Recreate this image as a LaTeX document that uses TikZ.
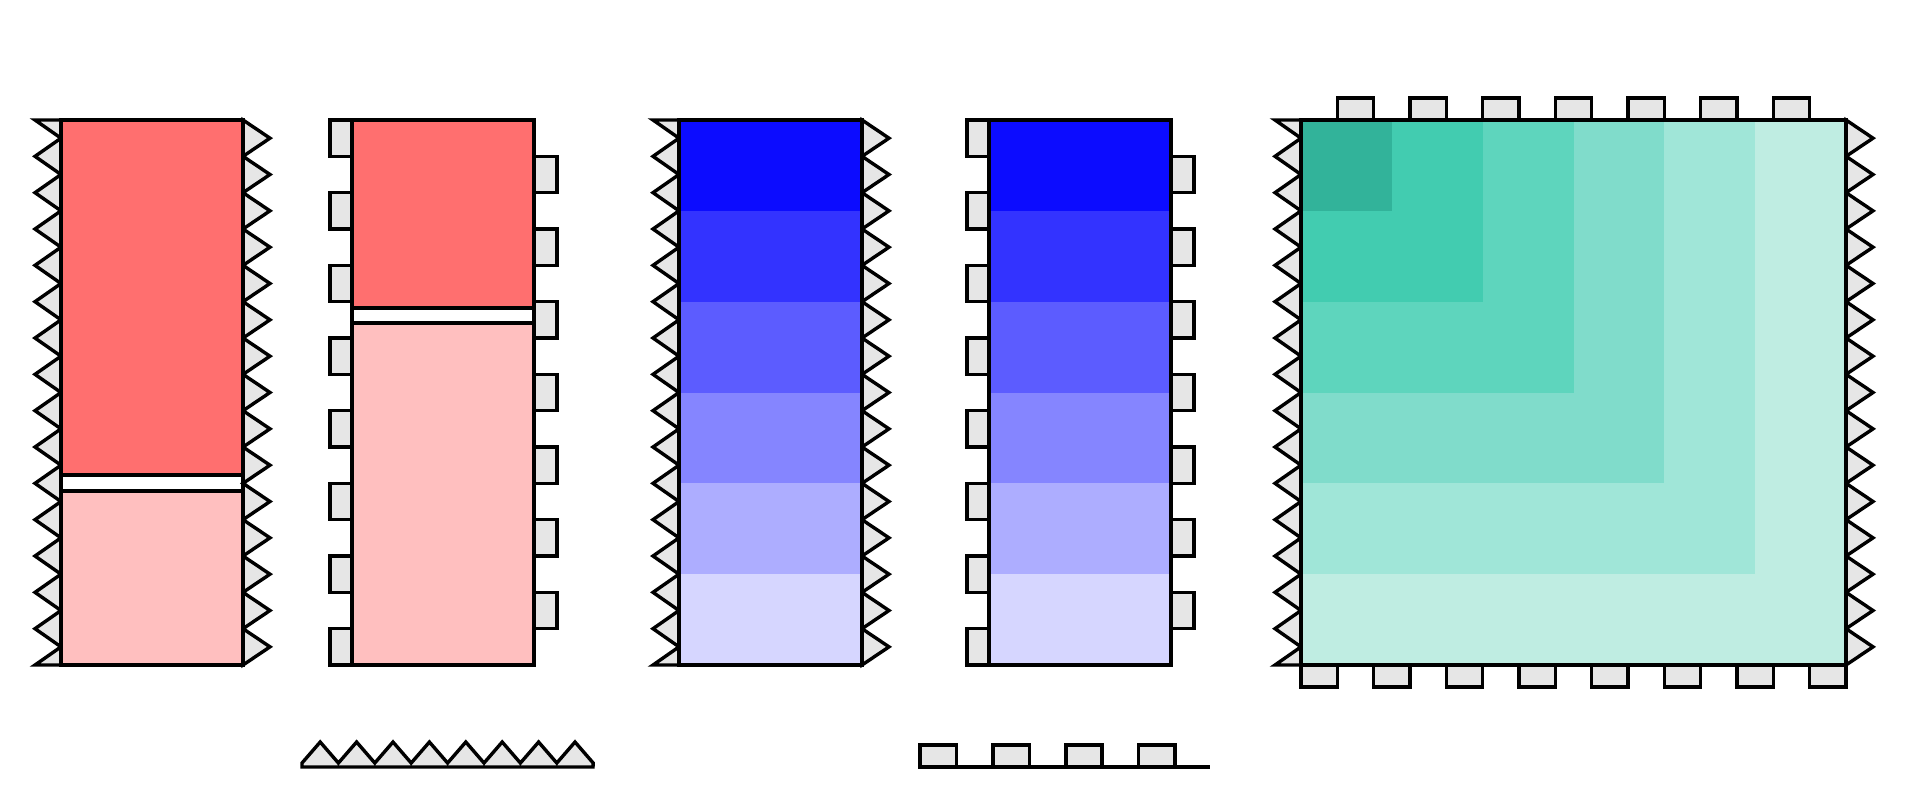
\documentclass[tikz,border=0pt]{standalone}
\definecolor{toothgray}{HTML}{E6E6E6}
\definecolor{redA}{HTML}{FF6F6F}
\definecolor{redB}{HTML}{FFBFBF}
\definecolor{bl1}{HTML}{0C0CFF}
\definecolor{bl2}{HTML}{3333FF}
\definecolor{bl3}{HTML}{5C5CFF}
\definecolor{bl4}{HTML}{8585FF}
\definecolor{bl5}{HTML}{ADADFF}
\definecolor{bl6}{HTML}{D6D6FF}
\definecolor{tl1}{HTML}{32B39A}
\definecolor{tl2}{HTML}{42CCB0}
\definecolor{tl3}{HTML}{5ED5BD}
\definecolor{tl4}{HTML}{80DCCB}
\definecolor{tl5}{HTML}{A0E6D8}
\definecolor{tl6}{HTML}{BFEDE2}
\tikzset{
  tooth/.style={fill=toothgray, draw=black, line width=1.7pt},
  frame/.style={draw=black, line width=1.7pt},
  part/.style={draw=black, line width=1.7pt},
}
% left zigzag edge at x=#1
\newcommand\myzigleft[1]{%
  \draw[tooth] (#1,120) -- ({#1-26},120)
    \foreach \k in {0,...,14} { -- (#1,{120+(\k+0.5)*\uu}) -- ({#1-26},{120+(\k+1)*\uu}) }
    -- (#1,665) -- cycle;}
% right zigzag edge at x=#1
\newcommand\myzigright[1]{%
  \draw[tooth] (#1,120)
    \foreach \k in {0,...,14} { -- ({#1+27},{120+(\k+0.5)*\uu}) -- (#1,{120+(\k+1)*\uu}) }
    -- cycle;}
% square teeth, left edge at #1, right edge at #2
\newcommand\mysquares[2]{%
  \foreach \k in {0,2,...,14} {\draw[tooth] ({#1-22},{120+\k*\uu}) rectangle (#1,{120+(\k+1)*\uu});}
  \foreach \k in {1,3,...,13} {\draw[tooth] (#2,{120+\k*\uu}) rectangle ({#2+23},{120+(\k+1)*\uu});}}
\begin{document}
\begin{tikzpicture}[x=0.5pt,y=-0.5pt]
\pgfmathsetmacro\uu{545/15}
\pgfmathsetmacro\cc{545/6}
\useasboundingbox[fill=white] (0,0) rectangle (1909,800);

% ---------- column 1: red, zigzag ----------
\myzigleft{61}
\myzigright{243}
\draw[part, fill=redA] (61,120) rectangle (243,475);
\draw[part, fill=redB] (61,491) rectangle (243,665);
\draw[frame] (61,120) rectangle (243,665);

% ---------- column 2: red, squares ----------
\mysquares{352}{534}
\draw[part, fill=redA] (352,120) rectangle (534,308);
\draw[part, fill=redB] (352,323) rectangle (534,665);
\draw[frame] (352,120) rectangle (534,665);

% ---------- column 3: blue, zigzag ----------
\myzigleft{679}
\myzigright{862}
\foreach \k in {1,...,6} {\fill[bl\k] (679,{120+(\k-1)*\cc}) rectangle (862,{120+\k*\cc});}
\draw[frame] (679,120) rectangle (862,665);

% ---------- column 4: blue, squares ----------
\mysquares{989}{1171}
\foreach \k in {1,...,6} {\fill[bl\k] (989,{120+(\k-1)*\cc}) rectangle (1171,{120+\k*\cc});}
\draw[frame] (989,120) rectangle (1171,665);

% ---------- teal grid ----------
\myzigleft{1301}
\myzigright{1846}
\foreach \k in {1,3,...,13} {\draw[tooth] ({1301+\k*\uu},98) rectangle ({1301+(\k+1)*\uu},120);}
\foreach \k in {0,2,...,14} {\draw[tooth] ({1301+\k*\uu},665) rectangle ({1301+(\k+1)*\uu},687);}
\foreach \i in {0,...,5} {
  \foreach \j in {0,...,5} {
    \pgfmathtruncatemacro\lv{max(\i,\j)+1}
    \fill[tl\lv] ({1301+\i*\cc},{120+\j*\cc}) rectangle ({1301+(\i+1)*\cc},{120+(\j+1)*\cc});
  }
}
\draw[frame] (1301,120) rectangle (1846,665);

% ---------- legend: zigzag ----------
\draw[tooth] (302,767) -- (302,763)
  \foreach \k in {0,...,7} { -- ({302+(\k+0.5)*36.4},742) -- ({302+(\k+1)*36.4},763) }
  -- (593,767) -- cycle;

% ---------- legend: squares ----------
\draw[frame] (920,767) -- (1210,767);
\foreach \k in {0,...,3} {\draw[tooth] ({920+\k*72.9},745) rectangle ({920+\k*72.9+36.3},767);}
\end{tikzpicture}
\end{document}
